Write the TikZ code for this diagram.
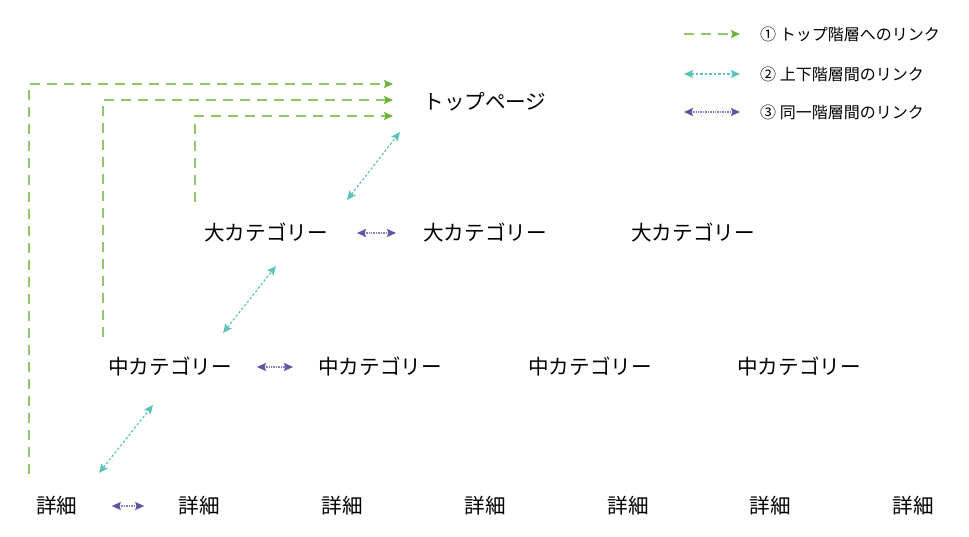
\documentclass[tikz,border=0pt]{standalone}
\usepackage{fontspec}
\setmainfont{Noto Sans CJK JP}
\usetikzlibrary{arrows.meta}
\definecolor{topgreen}{HTML}{8DC767}
\definecolor{topgreentip}{HTML}{6DB33F}
\definecolor{updown}{HTML}{5CC3B8}
\definecolor{samelvl}{HTML}{5A56A6}

\tikzset{
  page/.style={inner sep=0pt, font=\fontsize{20.6}{24}\selectfont},
  legtext/.style={inner sep=0pt, anchor=west, font=\fontsize{16}{19}\selectfont},
  toplink/.style={draw=topgreen, line width=1.3pt, dash pattern=on 10pt off 7pt,
    -{Stealth[length=9pt,width=8pt,inset=1.5pt,color=topgreentip]}},
  uplink/.style={draw=updown, line width=1.2pt, dash pattern=on 2.5pt off 2pt,
    {Stealth[length=9pt,width=8pt,inset=1.5pt]}-{Stealth[length=9pt,width=8pt,inset=1.5pt]}},
  samelink/.style={draw=samelvl!75, line width=1.6pt, dash pattern=on 1pt off 0.7pt,
    {Stealth[length=9pt,width=8pt,inset=1.5pt,color=samelvl]}-{Stealth[length=9pt,width=8pt,inset=1.5pt,color=samelvl]}}
}

\begin{document}
\begin{tikzpicture}[x=1pt, y=-1pt]

  \useasboundingbox (0,0) rectangle (969,537);

  %% pages
  \node[page] (top) at (485,102) {トップページ};

  \node[page] (l1) at (266,233) {大カテゴリー};
  \node[page] (l2) at (485,233) {大カテゴリー};
  \node[page] (l3) at (693,233) {大カテゴリー};

  \node[page] (m1) at (170,367) {中カテゴリー};
  \node[page] (m2) at (380,367) {中カテゴリー};
  \node[page] (m3) at (590,367) {中カテゴリー};
  \node[page] (m4) at (799,367) {中カテゴリー};

  \foreach \i/\x in {1/57, 2/199, 3/342, 4/485, 5/628, 6/770, 7/913}
    \node[page] (d\i) at (\x,506) {詳細};

  %% links to the top page
  \coordinate (ga) at (29,474);   \coordinate (ge) at (393,84);
  \coordinate (gb) at (103,337);  \coordinate (gf) at (393,100);
  \coordinate (gc) at (195,202);  \coordinate (gg) at (393,116);
  \draw[toplink] (ga) |- (ge); % detail -> top
  \draw[toplink] (gb) |- (gf); % middle -> top
  \draw[toplink] (gc) |- (gg); % large -> top

  %% up / down
  \coordinate (u1a) at (347,200); \coordinate (u1b) at (400,132);
  \coordinate (u2a) at (223,333); \coordinate (u2b) at (276,266);
  \coordinate (u3a) at (99,473);  \coordinate (u3b) at (153,405);
  \draw[uplink] (u1a) -- (u1b); % l1 <-> top
  \draw[uplink] (u2a) -- (u2b); % m1 <-> l1
  \draw[uplink] (u3a) -- (u3b); % d1 <-> m1

  %% same level
  \draw[samelink, shorten <=29pt, shorten >=27pt] (l1.east) -- (l2.west);
  \draw[samelink, shorten <=25pt, shorten >=25pt] (m1.east) -- (m2.west);
  \draw[samelink, shorten <=34pt, shorten >=34pt] (d1.east) -- (d2.west);

  %% legend
  \coordinate (k1a) at (684,34);  \coordinate (k1b) at (740,34);
  \coordinate (k2a) at (684,74);  \coordinate (k2b) at (740,74);
  \coordinate (k3a) at (684,112); \coordinate (k3b) at (740,112);
  \draw[toplink] (k1a) -- (k1b);
  \draw[uplink] (k2a) -- (k2b);
  \draw[samelink] (k3a) -- (k3b);
  \node[legtext] (t1) at (760,34) {① トップ階層へのリンク};
  \node[legtext] (t2) at (760,74) {② 上下階層間のリンク};
  \node[legtext] (t3) at (760,112) {③ 同一階層間のリンク};

\end{tikzpicture}
\end{document}
